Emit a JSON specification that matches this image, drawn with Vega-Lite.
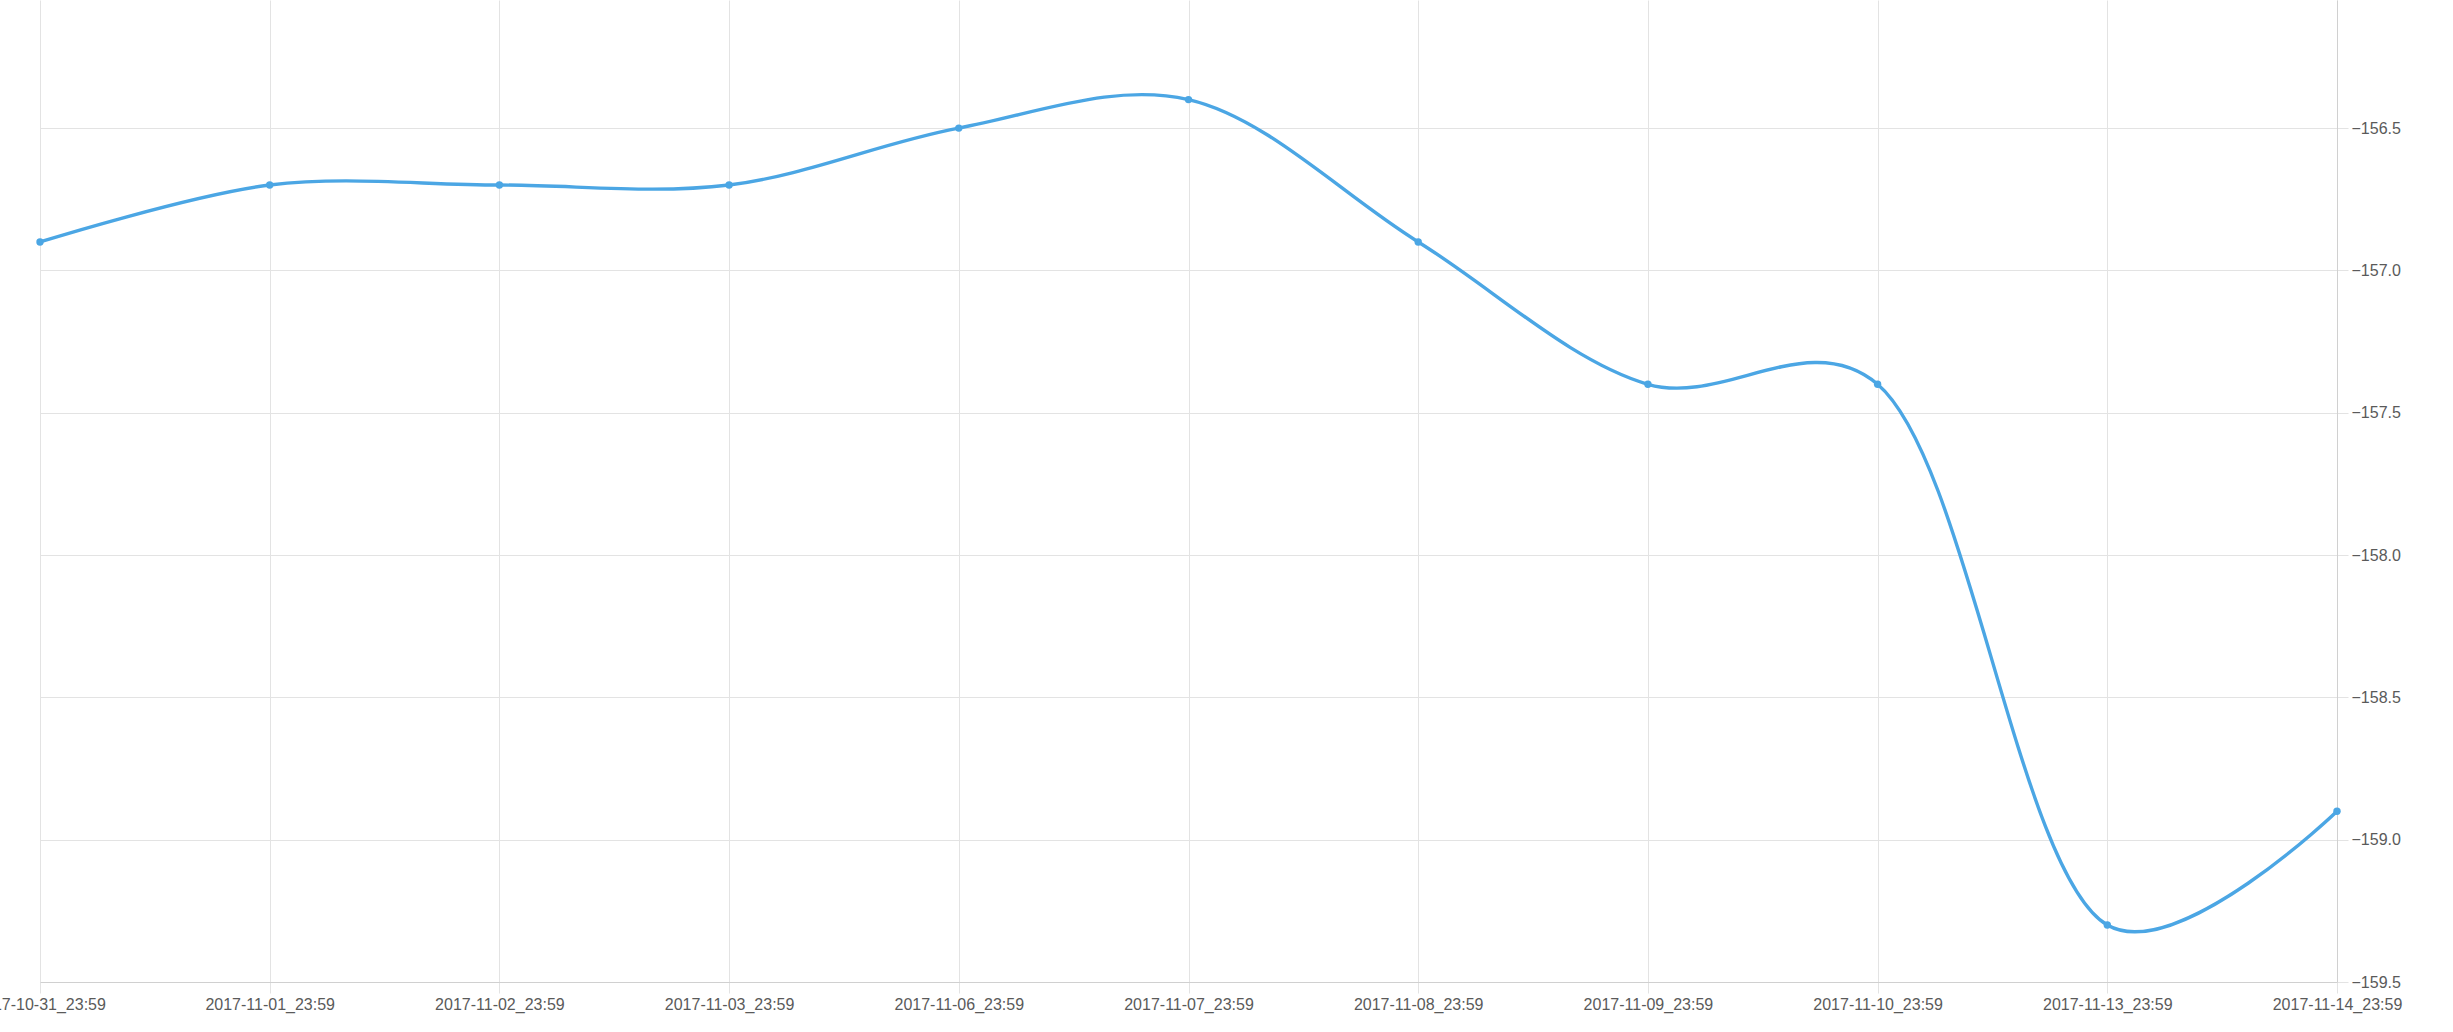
{
  "$schema": "https://vega.github.io/schema/vega-lite/v6.json",
  "autosize": "none",
  "width": 2297,
  "height": 982,
  "padding": {"left": 40, "top": 0, "right": 116, "bottom": 50},
  "background": "white",
  "config": {
    "view": {"stroke": null},
    "font": "Liberation Sans"
  },
  "data": {
    "values": [
      {"date": "2017-10-31_23:59", "value": -156.9},
      {"date": "2017-11-01_23:59", "value": -156.7},
      {"date": "2017-11-02_23:59", "value": -156.7},
      {"date": "2017-11-03_23:59", "value": -156.7},
      {"date": "2017-11-06_23:59", "value": -156.5},
      {"date": "2017-11-07_23:59", "value": -156.4},
      {"date": "2017-11-08_23:59", "value": -156.9},
      {"date": "2017-11-09_23:59", "value": -157.4},
      {"date": "2017-11-10_23:59", "value": -157.4},
      {"date": "2017-11-13_23:59", "value": -159.3},
      {"date": "2017-11-14_23:59", "value": -158.9}
    ]
  },
  "encoding": {
    "x": {
      "field": "date",
      "type": "ordinal",
      "sort": null,
      "scale": {"type": "point", "padding": 0},
      "axis": {
        "title": null,
        "labelAngle": 0,
        "labelFontSize": 16,
        "labelColor": "#5a5a5a",
        "labelPadding": 3,
        "tickSize": 11,
        "tickColor": "#e3e3e3",
        "gridColor": "#e3e3e3",
        "grid": true,
        "domainColor": "#d0d0d0",
        "labelOverlap": false
      }
    },
    "y": {
      "field": "value",
      "type": "quantitative",
      "scale": {"domain": [-159.5, -156.05], "nice": false, "zero": false},
      "axis": {
        "orient": "right",
        "title": null,
        "values": [-159.5, -159.0, -158.5, -158.0, -157.5, -157.0, -156.5],
        "format": ".1f",
        "labelFontSize": 16,
        "labelColor": "#5a5a5a",
        "labelPadding": 3,
        "tickSize": 11,
        "tickColor": "#e3e3e3",
        "gridColor": "#e3e3e3",
        "grid": true,
        "domainColor": "#d0d0d0"
      }
    }
  },
  "layer": [
    {
      "mark": {"type": "line", "interpolate": "catmull-rom", "tension": 0.3, "color": "#4ba6e4", "strokeWidth": 3.4}
    },
    {
      "mark": {"type": "point", "filled": true, "opacity": 1, "color": "#4ba6e4", "size": 55}
    }
  ]
}
